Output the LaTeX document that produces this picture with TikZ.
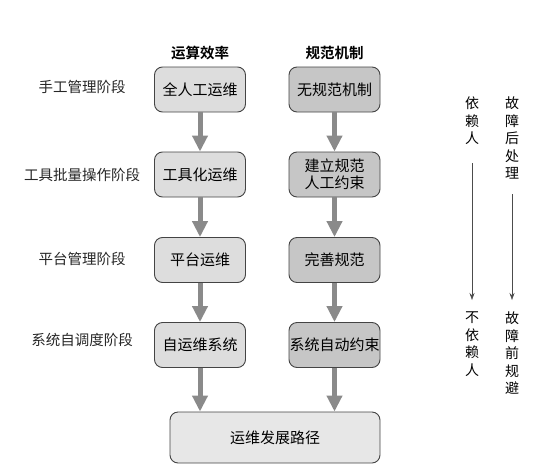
\documentclass[tikz,border=0pt]{standalone}
\usepackage{fontspec}
\setmainfont{Noto Sans CJK SC}[BoldFont={Noto Sans CJK SC Bold}]
\usetikzlibrary{arrows.meta}
\definecolor{boxlight}{HTML}{DDDDDD}
\definecolor{boxdark}{HTML}{C6C6C6}
\definecolor{arrowgray}{HTML}{8A8A8A}
\definecolor{edgegray}{HTML}{444444}
\begin{document}
\begin{tikzpicture}[x=1pt, y=-1pt,
    stage/.style={font=\fontsize{14.5}{16}\selectfont, text=black!85},
    head/.style={font=\fontsize{14.5}{16}\selectfont\bfseries},
    opsbox/.style={draw=edgegray, line width=0.9pt, rounded corners=8pt, fill=boxlight,
      minimum width=91pt, minimum height=45pt, inner sep=0pt, align=center,
      font=\fontsize{15}{17.5}\selectfont},
    rulebox/.style={opsbox, fill=boxdark},
    flow/.style={draw=arrowgray, line width=5pt, -{Triangle[width=15pt, length=16pt]}},
    sidetext/.style={align=center, font=\fontsize{14}{17.5}\selectfont, inner sep=0pt},
    sideline/.style={draw=black!70, line width=0.6pt, -{Stealth[width=5pt, length=7pt]}}]
  \useasboundingbox (0,0) rectangle (548,471);
  % column heads
  \node[head] (h1) at (200,53) {运算效率};
  \node[head] (h2) at (334.5,53) {规范机制};
  % stages
  \node[stage] (s1) at (82,87) {手工管理阶段};
  \node[stage] (s2) at (82,175) {工具批量操作阶段};
  \node[stage] (s3) at (82,259) {平台管理阶段};
  \node[stage] (s4) at (82,340) {系统自调度阶段};
  % efficiency column
  \node[opsbox] (a1) at (200,89.5) {全人工运维};
  \node[opsbox] (a2) at (200,174.5) {工具化运维};
  \node[opsbox] (a3) at (200,260) {平台运维};
  \node[opsbox] (a4) at (200,345) {自运维系统};
  % rule column
  \node[rulebox] (b1) at (334.5,89.5) {无规范机制};
  \node[rulebox] (b2) at (334.5,174.5) {建立规范\\人工约束};
  \node[rulebox] (b3) at (334.5,260) {完善规范};
  \node[rulebox] (b4) at (334.5,345) {系统自动约束};
  % bottom
  \node[opsbox, fill=boxlight!70!white, minimum width=210pt, minimum height=51pt] (path) at (275,437.5) {运维发展路径};
  \foreach \i/\j in {1/2,2/3,3/4}{
    \draw[flow] (a\i.south) -- (a\j.north);
    \draw[flow] (b\i.south) -- (b\j.north);
  }
  \draw[flow] (a4.south) -- (a4.south |- path.north);
  \draw[flow] (b4.south) -- (b4.south |- path.north);
  % right side
  \node[sidetext, anchor=north] (r1) at (472,97) {依\\赖\\人};
  \node[sidetext, anchor=north] (r2) at (472,312) {不\\依\\赖\\人};
  \node[sidetext, anchor=north] (f1) at (512,97) {故\\障\\后\\处\\理};
  \node[sidetext, anchor=north] (f2) at (512,312) {故\\障\\前\\规\\避};
  \coordinate (r1s) at (472,163);
  \coordinate (r1e) at (472,300);
  \coordinate (f1s) at (512,194);
  \coordinate (f1e) at (512,300);
  \draw[sideline] (r1s) -- (r1e);
  \draw[sideline] (f1s) -- (f1e);
\end{tikzpicture}
\end{document}
